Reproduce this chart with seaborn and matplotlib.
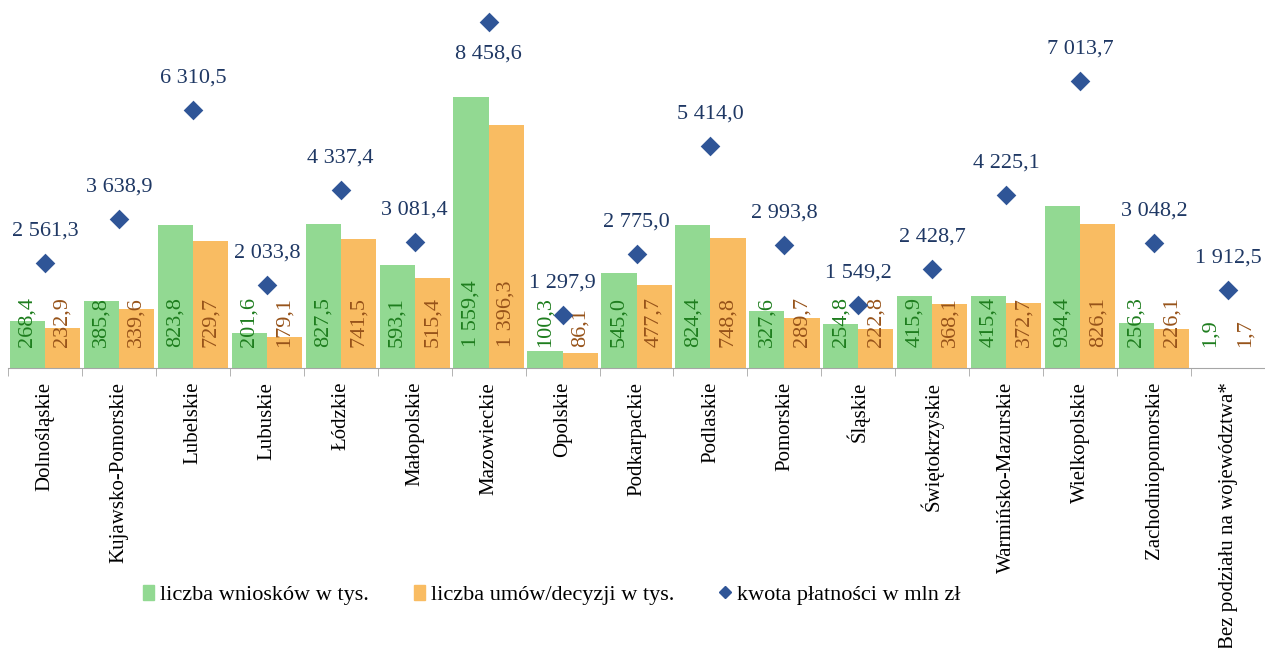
import pandas as pd
import numpy as np
import seaborn as sns
import matplotlib.pyplot as plt
from matplotlib.patches import Patch
from matplotlib.lines import Line2D

# Dane
wojewodztwa = ["Dolnośląskie", "Kujawsko-Pomorskie", "Lubelskie", "Lubuskie", "Łódzkie",
               "Małopolskie", "Mazowieckie", "Opolskie", "Podkarpackie", "Podlaskie",
               "Pomorskie", "Śląskie", "Świętokrzyskie", "Warmińsko-Mazurskie",
               "Wielkopolskie", "Zachodniopomorskie", "Bez podziału na województwa*"]
wnioski = [268.4, 385.8, 823.8, 201.6, 827.5, 593.1, 1559.4, 100.3, 545.0, 824.4,
           327.6, 254.8, 415.9, 415.4, 934.4, 256.3, 1.9]
umowy = [232.9, 339.6, 729.7, 179.1, 741.5, 515.4, 1396.3, 86.1, 477.7, 748.8,
         289.7, 222.8, 368.1, 372.7, 826.1, 226.1, 1.7]
kwota = [2561.3, 3638.9, 6310.5, 2033.8, 4337.4, 3081.4, 8458.6, 1297.9, 2775.0, 5414.0,
         2993.8, 1549.2, 2428.7, 4225.1, 7013.7, 3048.2, 1912.5]
serie = ["liczba wniosków w tys.", "liczba umów/decyzji w tys.", "kwota płatności w mln zł"]

green, orange, blue = "#92D992", "#F9BC62", "#2F5597"
green_txt, orange_txt, blue_txt = "#1E7D1E", "#97531A", "#1F3864"

plt.rcParams['font.family'] = ['Liberation Serif', 'DejaVu Serif']


def fmt(v):
    return f"{v:,.1f}".replace(",", " ").replace(".", ",")


df = pd.DataFrame({
    "woj": wojewodztwa * 2,
    "val": wnioski + umowy,
    "seria": [serie[0]] * len(wojewodztwa) + [serie[1]] * len(wojewodztwa),
})

fig = plt.figure(figsize=(12.65, 6.48), dpi=100)
ax = fig.add_axes([8 / 1265, 280 / 648, 1257 / 1265, 368 / 648])

sns.barplot(data=df, x="woj", y="val", hue="seria", palette=[green, orange],
            width=0.95, saturation=1, linewidth=0, legend=False, ax=ax)
ax.set_ylim(0, 2118)
ax.set_xlim(-0.5, len(wojewodztwa) - 0.5)

# Etykiety słupków
for cont, vals, col in zip(ax.containers, [wnioski, umowy], [green_txt, orange_txt]):
    for bar, v in zip(cont, vals):
        ax.annotate(fmt(v), (bar.get_x() + bar.get_width() / 2, 0), xytext=(0, 15),
                    textcoords="offset points", rotation=90, ha="center", va="bottom",
                    fontsize=16, color=col)

# Oś pomocnicza - kwota płatności
ax2 = ax.twinx()
xs = np.arange(len(wojewodztwa))
ax2.scatter(xs, kwota, marker="D", s=100, color=blue, zorder=3, linewidths=0)
ax2.set_ylim(0, 8990)
for x, v in zip(xs, kwota):
    dy = -23 if v == max(kwota) else 23
    ax2.annotate(fmt(v), (x, v), xytext=(0, dy), textcoords="offset points",
                 ha="center", va="center", fontsize=16, color=blue_txt)

for a in (ax, ax2):
    for s in ["top", "left", "right"]:
        a.spines[s].set_visible(False)
    a.set_yticks([])
    a.set_ylabel("")
ax2.spines["bottom"].set_visible(False)
ax.spines["bottom"].set_color("#A6A6A6")
ax.set_xlabel("")

ax.set_xticks(xs)
ax.set_xticklabels(wojewodztwa, rotation=90, fontsize=15)
ax.set_xticks(np.arange(-0.5, len(wojewodztwa)), minor=True)
ax.tick_params(axis="x", which="major", length=0, pad=10)
ax.tick_params(axis="x", which="minor", length=6, color="#A6A6A6")

handles = [Patch(color=green), Patch(color=orange),
           Line2D([], [], marker="D", color=blue, linestyle="none", markersize=6)]
fig.legend(handles, serie, loc="center", bbox_to_anchor=(0.436, 0.082), ncol=3,
           frameon=False, fontsize=16, handlelength=0.5, handleheight=0.7,
           handletextpad=0.3, columnspacing=2.0)

fig.savefig("out.png", dpi=100)
plt.close()
